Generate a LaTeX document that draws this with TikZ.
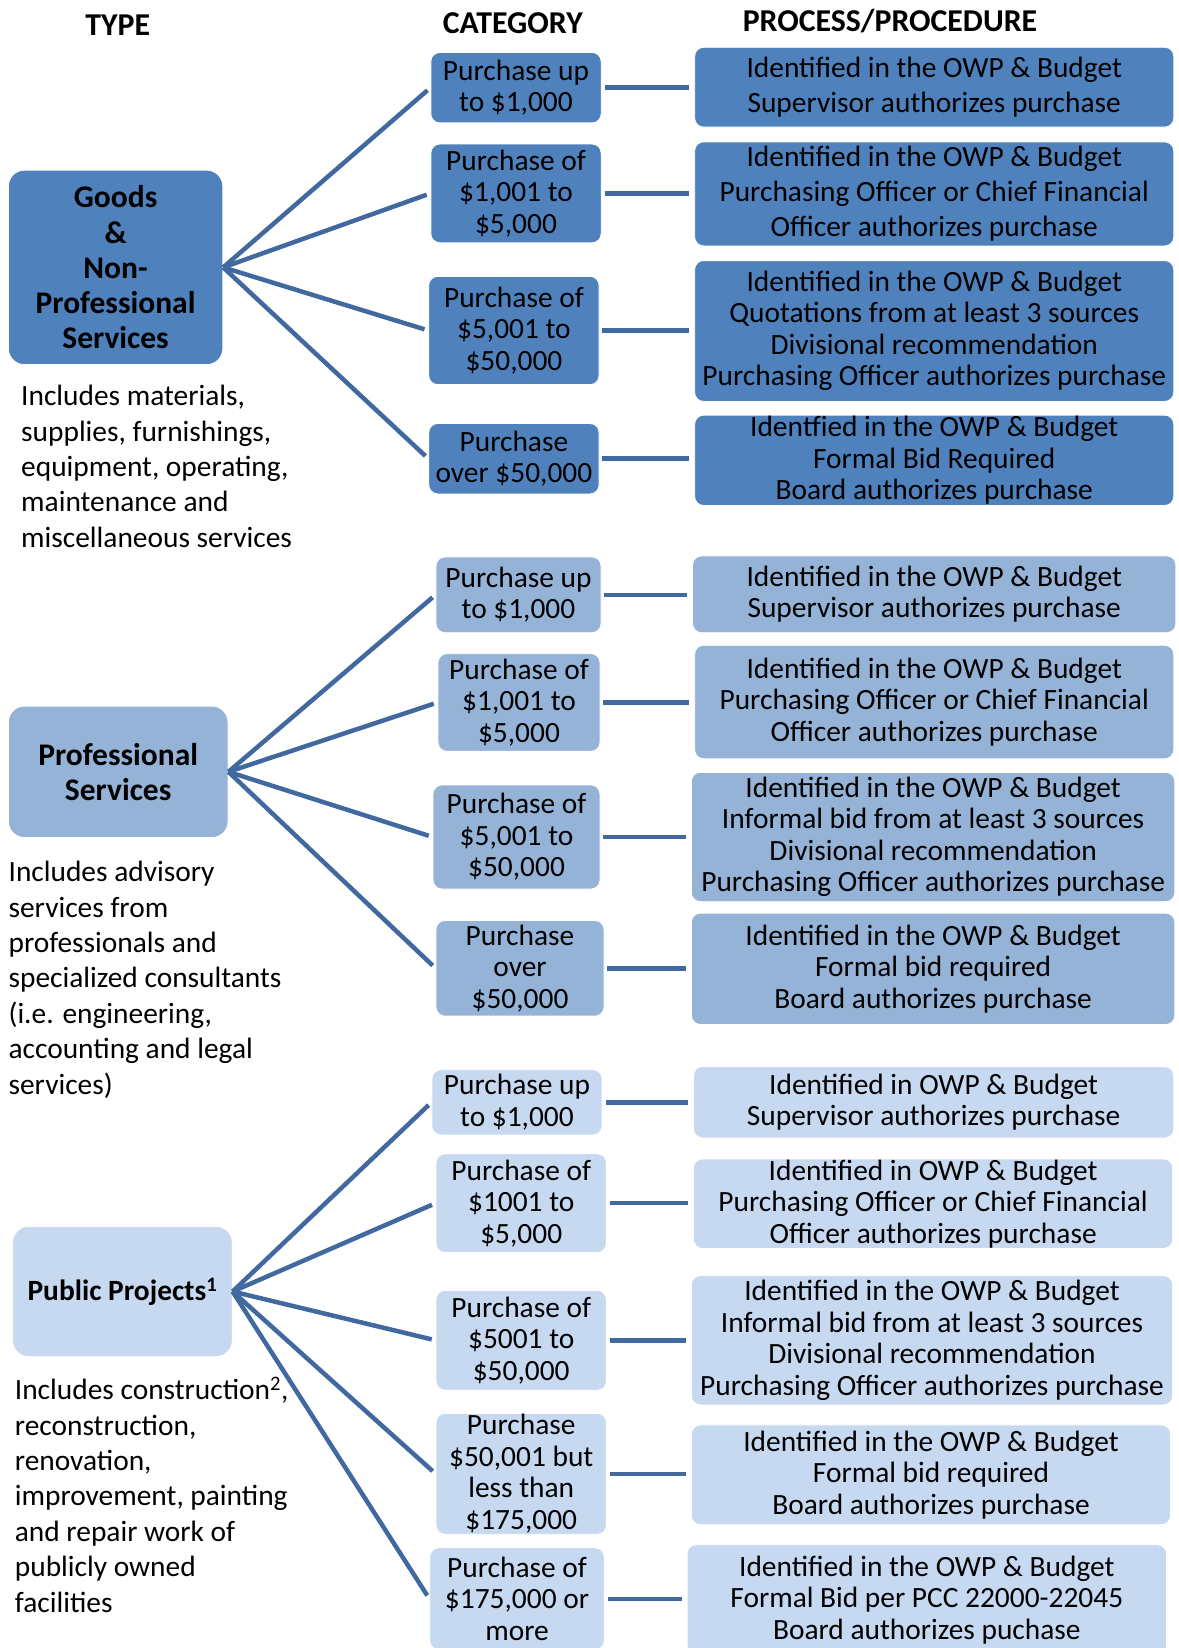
\documentclass[tikz,border=0pt]{standalone}
\usepackage{fontspec}
\setmainfont{Carlito}
\definecolor{dk}{HTML}{4F81BD}
\definecolor{md}{HTML}{95B3D7}
\definecolor{lt}{HTML}{C6D9F1}
\definecolor{ln}{HTML}{41699F}
\tikzset{
  box/.style={rounded corners=9pt, inner sep=0pt, align=center, text=black, draw=white, line width=0.8pt,
    font=\fontsize{29.4}{31.5}\selectfont},
  dkbox/.style={box, fill=dk},
  mdbox/.style={box, fill=md},
  ltbox/.style={box, fill=lt},
  typebox/.style={rounded corners=16pt, inner sep=0pt, align=center, text=black, draw=white, line width=0.8pt},
  hdr/.style={inner sep=0pt, font=\bfseries\fontsize{31.8}{34}\selectfont},
  desc/.style={inner sep=0pt, anchor=north west, align=left, font=\fontsize{29.4}{35.4}\selectfont},
  conn/.style={draw=ln, line width=4.5pt},
  hconn/.style={conn, shorten <=3pt, shorten >=5pt},
  sconn/.style={conn, shorten >=4pt}
}
\begin{document}
\begin{tikzpicture}[x=1pt,y=-1pt]
\useasboundingbox (0,0) rectangle (1178,1648);

% headers
\node[hdr] (htype) at (117.7,25.2) {TYPE};
\node[hdr] (hcat) at (512.8,23.1) {CATEGORY};
\node[hdr] (hproc) at (890,21) {PROCESS/PROCEDURE};

% ===== Section 1 =====
\node[typebox, fill=dk, minimum width=214.4pt, minimum height=194.4pt,
  font=\bfseries\fontsize{31.5}{35.2}\selectfont] (goods) at (115.6,267.4)
  {Goods\\\&\\Non-\\Professional\\Services};
\node[desc] (d1) at (21,385) {Includes materials,\\supplies, furnishings,\\equipment, operating,\\maintenance and\\miscellaneous services};

\node[dkbox, minimum width=170.3pt, minimum height=70.4pt] (a1) at (516,87.7) {Purchase up\\to \$1,000};
\node[dkbox, minimum width=170.3pt, minimum height=98.7pt] (a2) at (516,193.4) {Purchase of\\\$1,001 to\\\$5,000};
\node[dkbox, minimum width=170.3pt, minimum height=108.2pt] (a3) at (513.9,330.5) {Purchase of\\\$5,001 to\\\$50,000};
\node[dkbox, minimum width=170.3pt, minimum height=70.4pt] (a4) at (513.9,458.7) {Purchase\\over \$50,000};

\node[dkbox, minimum width=479.1pt, minimum height=79.8pt, font=\fontsize{29.4}{35.7}\selectfont] (pa1) at (934.2,87.2)
  {Identified in the OWP \& Budget\\Supervisor authorizes purchase};
\node[dkbox, minimum width=479.1pt, minimum height=104pt, font=\fontsize{29.4}{35.2}\selectfont] (pa2) at (934.2,193.9)
  {Identified in the OWP \& Budget\\Purchasing Officer or Chief Financial\\Officer authorizes purchase};
\node[dkbox, minimum width=479.1pt, minimum height=140.8pt] (pa3) at (934.2,331)
  {Identified in the OWP \& Budget\\Quotations from at least 3 sources\\Divisional recommendation\\Purchasing Officer authorizes purchase};
\node[dkbox, minimum width=479.1pt, minimum height=90.3pt] (pa4) at (934.2,460.3)
  {Identfied in the OWP \& Budget\\Formal Bid Required\\Board authorizes purchase};

\foreach \i in {1,...,4} {
  \draw[sconn] (goods.east) -- (a\i.west);
  \draw[hconn] (a\i.east) -- (a\i.east -| pa\i.west);
}

% ===== Section 2 =====
\node[typebox, fill=md, minimum width=219.6pt, minimum height=131.4pt,
  font=\bfseries\fontsize{31.5}{34.7}\selectfont] (prof) at (118.2,771.8)
  {Professional\\Services};
\node[desc] (d2) at (8.4,861) {Includes advisory\\services from\\professionals and\\specialized consultants\\(i.e. engineering,\\accounting and legal\\services)};

\node[mdbox, minimum width=165pt, minimum height=75.7pt] (b1) at (518.5,594.8) {Purchase up\\to \$1,000};
\node[mdbox, minimum width=162pt, minimum height=97.7pt] (b2) at (519,702.5) {Purchase of\\\$1,001 to\\\$5,000};
\node[mdbox, minimum width=167pt, minimum height=104pt] (b3) at (516.5,837) {Purchase of\\\$5,001 to\\\$50,000};
\node[mdbox, minimum width=168pt, minimum height=95.6pt] (b4) at (520,968.3) {Purchase\\over\\\$50,000};

\node[mdbox, minimum width=483.3pt, minimum height=76.7pt] (pb1) at (934.2,594.3)
  {Identified in the OWP \& Budget\\Supervisor authorizes purchase};
\node[mdbox, minimum width=479.1pt, minimum height=113.5pt] (pb2) at (934.2,702)
  {Identified in the OWP \& Budget\\Purchasing Officer or Chief Financial\\Officer authorizes purchase};
\node[mdbox, minimum width=483.4pt, minimum height=129.3pt] (pb3) at (933.1,837)
  {Identified in the OWP \& Budget\\Informal bid from at least 3 sources\\Divisional recommendation\\Purchasing Officer authorizes purchase};
\node[mdbox, minimum width=483.4pt, minimum height=111.4pt] (pb4) at (933.1,968.8)
  {Identified in the OWP \& Budget\\Formal bid required\\Board authorizes purchase};

\foreach \i in {1,...,4} {
  \draw[sconn] (prof.east) -- (b\i.west);
  \draw[hconn] (b\i.east) -- (b\i.east -| pb\i.west);
}

% ===== Section 3 =====
\node[typebox, fill=lt, minimum width=219.6pt, minimum height=130.3pt,
  font=\bfseries\fontsize{29.4}{32}\selectfont] (pub) at (122.4,1291.5)
  {Public Projects\textsuperscript{1}};
\node[desc] (d3) at (14.7,1377) {Includes construction\textsuperscript{2},\\reconstruction,\\renovation,\\improvement, painting\\and repair work of\\publicly owned\\facilities};

\node[ltbox, minimum width=170.2pt, minimum height=65.2pt] (c1) at (517,1102.3) {Purchase up\\to \$1,000};
\node[ltbox, minimum width=170.3pt, minimum height=98.8pt] (c2) at (521.2,1203.2) {Purchase of\\\$1001 to\\\$5,000};
\node[ltbox, minimum width=170.3pt, minimum height=99.8pt] (c3) at (521.2,1340.3) {Purchase of\\\$5001 to\\\$50,000};
\node[ltbox, minimum width=170.3pt, minimum height=120.9pt] (c4) at (521.2,1473.8) {Purchase\\\$50,001 but\\less than\\\$175,000};
\node[ltbox, minimum width=174.4pt, minimum height=102pt] (c5) at (517,1598.8) {Purchase of\\\$175,000 or\\more};

\node[ltbox, minimum width=480.2pt, minimum height=71.4pt] (pc1) at (933.6,1102.3)
  {Identified in OWP \& Budget\\Supervisor authorizes purchase};
\node[ltbox, minimum width=479.2pt, minimum height=89.4pt] (pc2) at (933.1,1203.7)
  {Identified in OWP \& Budget\\Purchasing Officer or Chief Financial\\Officer authorizes purchase};
\node[ltbox, minimum width=481.3pt, minimum height=129.2pt] (pc3) at (932,1340.3)
  {Identified in the OWP \& Budget\\Informal bid from at least 3 sources\\Divisional recommendation\\Purchasing Officer authorizes purchase};
\node[ltbox, minimum width=479.2pt, minimum height=99.8pt] (pc4) at (931,1474.8)
  {Identified in the OWP \& Budget\\Formal bid required\\Board authorizes purchase};
\node[ltbox, minimum width=479.2pt, minimum height=110pt] (pc5) at (926.8,1599.7)
  {Identified in the OWP \& Budget\\Formal Bid per PCC 22000-22045\\Board authorizes puchase};

\foreach \i in {1,...,5} {
  \draw[sconn] (pub.east) -- (c\i.west);
  \draw[hconn] (c\i.east) -- (c\i.east -| pc\i.west);
}
\end{tikzpicture}
\end{document}
